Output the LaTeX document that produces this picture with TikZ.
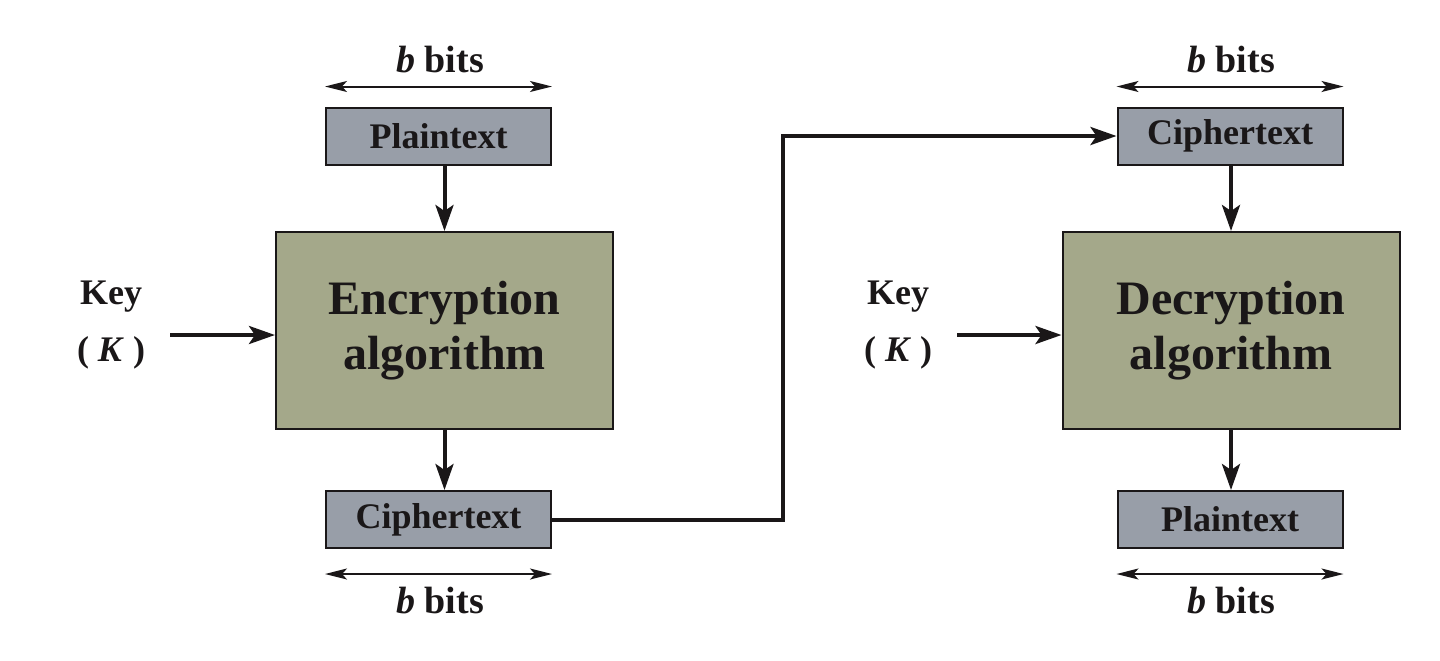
\documentclass[tikz,border=0pt]{standalone}
\usepackage{fontspec}
\setmainfont{Liberation Serif}
\usetikzlibrary{arrows.meta}
\definecolor{boxgray}{RGB}{152,158,168}
\definecolor{boxgreen}{RGB}{164,168,138}
\definecolor{ink}{RGB}{26,23,24}
\begin{document}
\begin{tikzpicture}[x=0.5pt,y=-0.5pt,
  smallbox/.style={draw=ink, line width=1pt, fill=boxgray, minimum width=112.5pt, minimum height=28.5pt, inner sep=0pt, font=\fontsize{18}{20}\selectfont\bfseries, text=ink},
  bigbox/.style={draw=ink, line width=1pt, fill=boxgreen, minimum width=168.5pt, minimum height=98.5pt, inner sep=0pt, align=center, font=\fontsize{24}{27.5}\selectfont\bfseries, text=ink},
  lbl/.style={inner sep=0pt, font=\fontsize{19}{20}\selectfont\bfseries, text=ink},
  keylbl/.style={inner sep=0pt, align=center, font=\fontsize{18}{28.5}\selectfont\bfseries, text=ink},
  conn/.style={draw=ink, line width=2pt, -{Stealth[length=13pt,width=9pt,inset=3pt]}},
  dim/.style={draw=ink, line width=1pt, {Stealth[length=11pt,width=5.5pt,inset=2.5pt]}-{Stealth[length=11pt,width=5.5pt,inset=2.5pt]}}
]
\useasboundingbox (0,0) rectangle (1440,660);
% left side
\node[smallbox] (pt1) at (438.5,136) {Plaintext};
\node[bigbox] (enc) at (444.5,330.5) {Encryption\\algorithm};
\node[smallbox] (ct1) at (438.5,519.5) {Ciphertext};
\node[lbl] (bt1) at (440,60) {\textit{b} bits};
\node[lbl] (bb1) at (440,601) {\textit{b} bits};
\node[keylbl] (key1) at (111,325) {Key\\( \textit{K} )};
\coordinate (k1s) at (170,335);
% right side
\node[smallbox] (ct2) at (1230,136) {Ciphertext};
\node[bigbox] (dec) at (1231,330.5) {Decryption\\algorithm};
\node[smallbox] (pt2) at (1230,519.5) {Plaintext};
\node[lbl] (bt2) at (1231,60) {\textit{b} bits};
\node[lbl] (bb2) at (1231,601) {\textit{b} bits};
\node[keylbl] (key2) at (898,325) {Key\\( \textit{K} )};
\coordinate (k2s) at (957,335);
\coordinate (turn) at (783,330);
% connectors
\draw[conn] (pt1.south -| enc.north) -- (enc.north);
\draw[conn] (enc.south) -- (enc.south |- ct1.north);
\draw[conn] (k1s) -- (k1s -| enc.west);
\draw[conn] (ct2.south -| dec.north) -- (dec.north);
\draw[conn] (dec.south) -- (dec.south |- pt2.north);
\draw[conn] (k2s) -- (k2s -| dec.west);
\draw[conn] (ct1.east) -- (ct1.east -| turn) -- (ct2.west -| turn) -- (ct2.west);
% b bits dimension arrows
\draw[dim] ([yshift=10pt]pt1.north west) -- ([yshift=10pt]pt1.north east);
\draw[dim] ([yshift=-12.5pt]ct1.south west) -- ([yshift=-12.5pt]ct1.south east);
\draw[dim] ([yshift=10pt]ct2.north west) -- ([yshift=10pt]ct2.north east);
\draw[dim] ([yshift=-12.5pt]pt2.south west) -- ([yshift=-12.5pt]pt2.south east);
\end{tikzpicture}
\end{document}
